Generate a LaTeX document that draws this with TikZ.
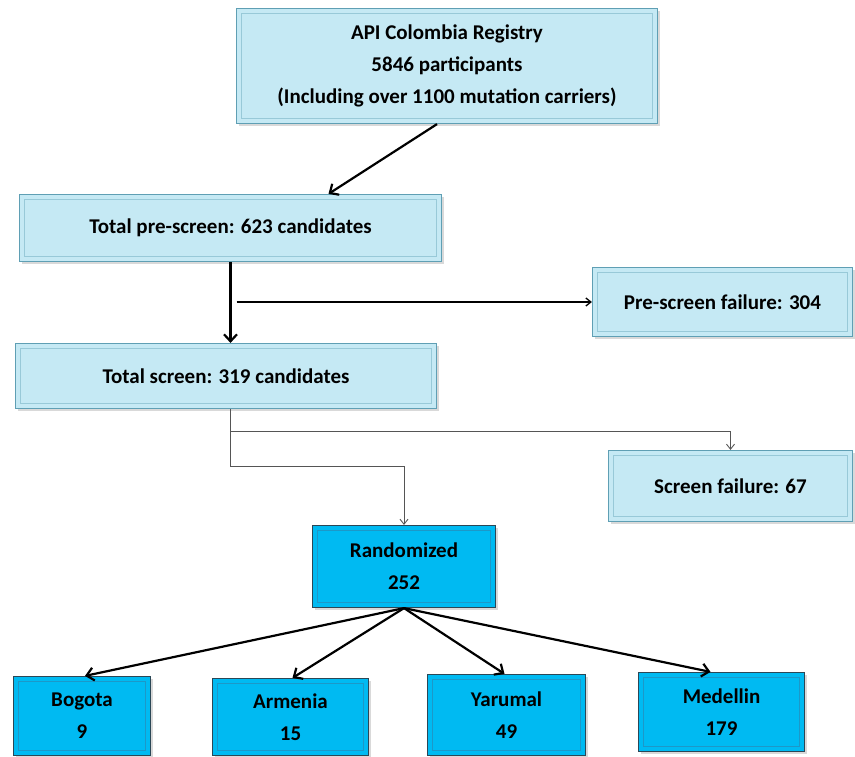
\documentclass[tikz,border=0pt]{standalone}
\usepackage{fontspec}
\setmainfont{Carlito}
\usetikzlibrary{arrows.meta, positioning, shadows}
\definecolor{mPaleBlue}{HTML}{C5E9F4}
\definecolor{mPaleEdge}{HTML}{5F9FB4}
\definecolor{mPaleFrame}{HTML}{98C9D8}
\definecolor{mSkyBlue}{HTML}{00BAF2}
\definecolor{mSkyEdge}{HTML}{2B4756}
\definecolor{mSkyFrame}{HTML}{1C98C8}
\definecolor{mGrey}{HTML}{555555}

\begin{document}
\begin{tikzpicture}[x=1pt, y=-1pt,
    box/.style={draw=mPaleEdge, fill=mPaleBlue, line width=1.2pt, inner sep=0pt, align=center,
      font=\fontsize{21}{32}\selectfont\bfseries,
      drop shadow={opacity=0.3, shadow xshift=2pt, shadow yshift=-2pt}},
    sitebox/.style={box, draw=mSkyEdge, fill=mSkyBlue},
    inframe/.style={line width=1pt},
    bold/.style={line width=2.2pt, -{Straight Barb[length=7pt, width=13pt]}},
    thinarrow/.style={draw=mGrey, line width=0.9pt, -{Straight Barb[length=5pt, width=8pt]}}
  ]
  \useasboundingbox (0,0) rectangle (855,756);

  \node[box, minimum width=421, minimum height=115] (api) at (447,66)
    {API Colombia Registry\\5846 participants\\(Including over 1100 mutation carriers)};
  \node[box, minimum width=422, minimum height=67] (pre) at (230.5,228) {Total pre-screen: 623 candidates};
  \node[box, minimum width=260, minimum height=69] (psfail) at (722.5,302) {Pre-screen failure: 304};
  \node[box, minimum width=421, minimum height=65] (ts) at (226,376) {Total screen: 319 candidates};
  \node[box, minimum width=244, minimum height=71] (sfail) at (730.5,486) {Screen failure: 67};
  \node[sitebox, minimum width=183, minimum height=82] (rand) at (404,566.5) {Randomized\\252};

  \node[sitebox, minimum width=137, minimum height=79] (bog) at (82,716) {Bogota\\9};
  \node[sitebox, minimum width=156, minimum height=77] (arm) at (290.5,717) {Armenia\\15};
  \node[sitebox, minimum width=158, minimum height=81] (yar) at (506.5,715) {Yarumal\\49};
  \node[sitebox, minimum width=166, minimum height=79] (med) at (721.5,712) {Medellin\\179};

  \foreach \n in {api, pre, psfail, ts, sfail}
    \draw[inframe, mPaleFrame] ([shift={(6pt,6pt)}]\n.south west) rectangle ([shift={(-6pt,-6pt)}]\n.north east);
  \foreach \n in {rand, bog, arm, yar, med}
    \draw[inframe, mSkyFrame] ([shift={(6pt,6pt)}]\n.south west) rectangle ([shift={(-6pt,-6pt)}]\n.north east);

  \draw[bold] ([xshift=-10pt]api.south) -- ([xshift=98pt]pre.north);
  \draw[bold] (pre.south) -- (pre.south |- ts.north);
  \coordinate (fork) at ([xshift=6pt]pre.south |- psfail.west);
  \draw[thinarrow, draw=black, line width=1.3pt] (fork) -- (psfail.west);

  \coordinate (tsout) at (pre.south |- ts.south);
  \draw[thinarrow] (tsout) -- ++(0,57) -| (rand.north);
  \draw[thinarrow] (tsout) -- ++(0,22) -| (sfail.north);

  \foreach \site/\dx in {bog/3, arm/2, yar/-2, med/-11}
    \draw[bold] (rand.south) -- ([xshift=\dx pt]\site.north);
\end{tikzpicture}
\end{document}
